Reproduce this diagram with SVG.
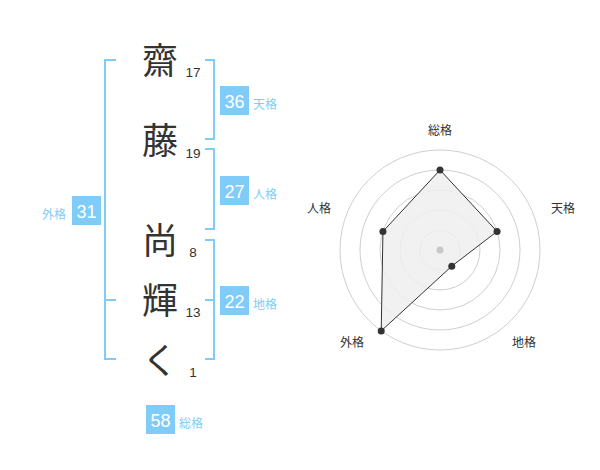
<svg xmlns="http://www.w3.org/2000/svg" width="600" height="470" viewBox="0 0 600 470">
<style>
.k{font-family:"Noto Sans CJK JP","Noto Sans CJK SC",sans-serif;font-size:36px;fill:#333;text-anchor:middle}
.n{font-family:"Liberation Sans",Arial,sans-serif;font-size:13.5px;fill:#333;text-anchor:middle}
.bx{fill:#80ccf8}
.bn{font-family:"Liberation Sans",Arial,sans-serif;font-size:18px;fill:#fff;text-anchor:middle}
.bl{font-family:"Noto Sans CJK JP",sans-serif;font-size:12px;fill:#80ccf8}
.br{fill:none;stroke:#80ccf8;stroke-width:2}
.rl{font-family:"Noto Sans CJK JP",sans-serif;font-size:12px;fill:#333;text-anchor:middle}
.ring{fill:none;stroke:#cfcfcf;stroke-width:1}
.dot{fill:#333}
</style>
<rect width="600" height="470" fill="#fff"/>
<g id="connectors">
<path class="br" d="M116,60 H105 V359 H116 M105,300 H116"/>
<path class="br" d="M205,60 H214 V139 H205"/>
<path class="br" d="M205,149 H214 V229 H205"/>
<path class="br" d="M205,240 H214 V359 H205 M205,300 H214"/>
</g>
<g id="char1"><text class="k" x="160" y="74">齋</text><text class="n" x="193" y="77">17</text></g>
<g id="char2"><text class="k" x="160" y="154">藤</text><text class="n" x="193" y="158">19</text></g>
<g id="char3"><text class="k" x="160" y="254">尚</text><text class="n" x="193" y="257">8</text></g>
<g id="char4"><text class="k" x="160" y="314">輝</text><text class="n" x="193" y="317">13</text></g>
<g id="char5"><text class="k" x="160" y="374">く</text><text class="n" x="193" y="377">1</text></g>
<g id="tenkaku"><rect class="bx" x="220" y="86" width="29" height="29"/><text class="bn" x="234.5" y="108">36</text><text class="bl" x="253" y="109">天格</text></g>
<g id="jinkaku"><rect class="bx" x="220" y="176" width="29" height="29"/><text class="bn" x="234.5" y="198">27</text><text class="bl" x="253" y="199">人格</text></g>
<g id="chikaku"><rect class="bx" x="220" y="286" width="29" height="29"/><text class="bn" x="234.5" y="308">22</text><text class="bl" x="253" y="309">地格</text></g>
<g id="gaikaku"><rect class="bx" x="72" y="196" width="29" height="29"/><text class="bn" x="86.5" y="218">31</text><text class="bl" x="66" y="219" text-anchor="end">外格</text></g>
<g id="soukaku"><rect class="bx" x="146" y="405" width="29" height="29"/><text class="bn" x="160.5" y="427">58</text><text class="bl" x="179" y="427.5">総格</text></g>
<g id="radar">
<circle class="ring" cx="440" cy="250" r="20"/>
<circle class="ring" cx="440" cy="250" r="40"/>
<circle class="ring" cx="440" cy="250" r="60"/>
<circle class="ring" cx="440" cy="250" r="80"/>
<circle class="ring" cx="440" cy="250" r="100"/>
<polygon points="440,170 497.06,231.46 451.76,266.18 381.22,330.9 382.94,231.46" fill="#efefef" fill-opacity="0.85" stroke="#333" stroke-width="1"/>
<circle cx="440" cy="250" r="3.5" fill="#c8c8c8"/>
<circle class="dot" cx="440" cy="170" r="3.5"/>
<circle class="dot" cx="497.06" cy="231.46" r="3.5"/>
<circle class="dot" cx="451.76" cy="266.18" r="3.5"/>
<circle class="dot" cx="381.22" cy="330.9" r="3.5"/>
<circle class="dot" cx="382.94" cy="231.46" r="3.5"/>
<text class="rl" x="440" y="135">総格</text>
<text class="rl" x="563" y="212.5">天格</text>
<text class="rl" x="319" y="212.5">人格</text>
<text class="rl" x="352" y="346.5">外格</text>
<text class="rl" x="524" y="346.5">地格</text>
</g>
</svg>
